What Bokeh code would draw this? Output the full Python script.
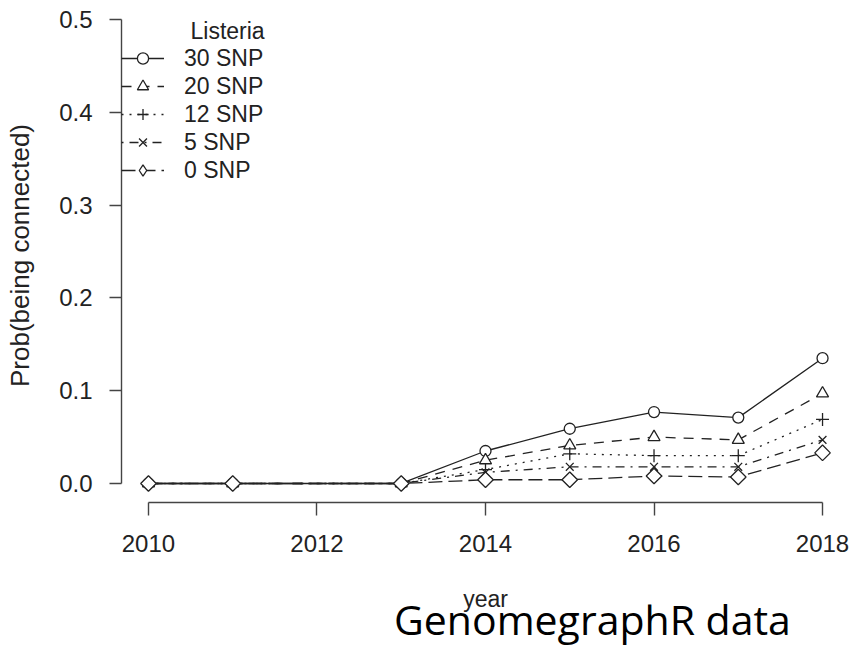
import numpy as np
from bokeh.plotting import figure
from bokeh.layouts import column
from bokeh.models import (Range1d, FixedTicker, Legend, LegendItem, Label, NumeralTickFormatter,
                          Div, ColumnDataSource)
from bokeh.embed import file_html
from bokeh.resources import INLINE

# ---- data ----
years = [2010, 2011, 2013, 2014, 2015, 2016, 2017, 2018]
snp30 = [0, 0, 0, 0.035, 0.059, 0.077, 0.071, 0.135]
snp20 = [0, 0, 0, 0.025, 0.041, 0.050, 0.047, 0.097]
snp12 = [0, 0, 0, 0.015, 0.032, 0.030, 0.030, 0.069]
snp5 = [0, 0, 0, 0.012, 0.018, 0.018, 0.018, 0.047]
snp0 = [0, 0, 0, 0.004, 0.004, 0.008, 0.007, 0.033]
series_labels = ["30 SNP", "20 SNP", "12 SNP", "5 SNP", "0 SNP"]
x_ticks = [2010, 2012, 2014, 2016, 2018]
y_ticks = [0.0, 0.1, 0.2, 0.3, 0.4, 0.5]
legend_title = "Listeria"
x_title = "year"
y_title = "Prob(being connected)"
caption = "GenomegraphR data"

FONT = "Liberation Sans"
INK = "#222222"

p = figure(width=851, height=645, output_backend="svg", toolbar_location=None,
           x_range=Range1d(2009.68, 2018.32), y_range=Range1d(-0.0205, 0.5119),
           min_border_left=121, min_border_right=2, min_border_top=8, min_border_bottom=143)
# off-screen range used only so the legend can show an upright diamond swatch
p.extra_y_ranges = {"legend_only": Range1d(start=10, end=11)}
p.outline_line_color = None
p.xgrid.visible = False
p.ygrid.visible = False

for ax in (p.xaxis, p.yaxis):
    ax.axis_line_color = "#444444"
    ax.axis_line_width = 1.4
    ax.major_tick_line_color = "#444444"
    ax.major_tick_line_width = 1.4
    ax.major_tick_in = 0
    ax.minor_tick_line_color = None
    ax.major_label_text_font = FONT
    ax.major_label_text_font_size = "24px"
    ax.major_label_text_color = INK
    ax.axis_label_text_font = FONT
    ax.axis_label_text_font_size = "23px"
    ax.axis_label_text_font_style = "normal"
    ax.axis_label_text_color = INK

p.yaxis.axis_label_text_font_size = "26px"
p.xaxis.bounds = (x_ticks[0], x_ticks[-1])
p.yaxis.bounds = (y_ticks[0], y_ticks[-1])
p.xaxis.ticker = FixedTicker(ticks=x_ticks)
p.yaxis.ticker = FixedTicker(ticks=y_ticks)
p.yaxis.formatter = NumeralTickFormatter(format="0.0")
p.xaxis.formatter = NumeralTickFormatter(format="0")
p.xaxis.major_tick_out = 13
p.yaxis.major_tick_out = 12
p.xaxis.major_label_standoff = 19
p.yaxis.major_label_standoff = 17
p.xaxis.axis_label = x_title
p.yaxis.axis_label = y_title
p.xaxis.axis_label_standoff = 31
p.yaxis.axis_label_standoff = 21

series = [snp30, snp20, snp12, snp5, snp0]
dashes = ["solid", "10 8", "2 6", "2 6 9 6", "14 6"]
markers = ["circle", "triangle", "cross", "x", "square"]
legend_markers = ["circle", "triangle", "cross", "x", "diamond"]
sizes = [11, 12, 13, 11, 11]
angles = [0, 0, 0, 0, np.pi / 4]

items = []
for vals, lab, dash, mk, lmk, sz, ang in zip(series, series_labels, dashes, markers,
                                             legend_markers, sizes, angles):
    src = ColumnDataSource(dict(x=years, y=vals))
    r1 = p.line("x", "y", source=src, line_color=INK, line_width=1.3, line_dash=dash)
    r2 = p.scatter("x", "y", source=src, marker=mk, size=sz, angle=ang, fill_color="white",
                   line_color=INK, line_width=1.3)
    rends = [r1, r2]
    if lmk != mk:
        r3 = p.scatter("x", "y", source=src, marker=lmk, size=sz, fill_color="white",
                       line_color=INK, line_width=1.3, y_range_name="legend_only")
        rends = [r1, r3]
    items.append(LegendItem(label=lab, renderers=rends))

legend = Legend(items=items, location=(0, 318), margin=0, padding=4,
                glyph_width=43, glyph_height=28, label_height=28, spacing=0,
                label_standoff=20, label_text_font=FONT, label_text_font_size="23px",
                label_text_color=INK, border_line_color=None, background_fill_alpha=0)
p.add_layout(legend, "center")

p.add_layout(Label(x=69, y=472, x_units="screen", y_units="screen", text=legend_title,
                   text_font=FONT, text_font_size="23px", text_color=INK,
                   text_baseline="middle", text_align="left"))

cap = Div(text=caption, width=460, margin=(-46, 0, 0, 394),
          styles={"font-family": "Open Sans", "font-size": "41px", "line-height": "1",
                  "color": "#000000", "white-space": "nowrap"})

layout = column(p, cap, spacing=0)
open("out.html", "w").write(file_html(layout, INLINE))
